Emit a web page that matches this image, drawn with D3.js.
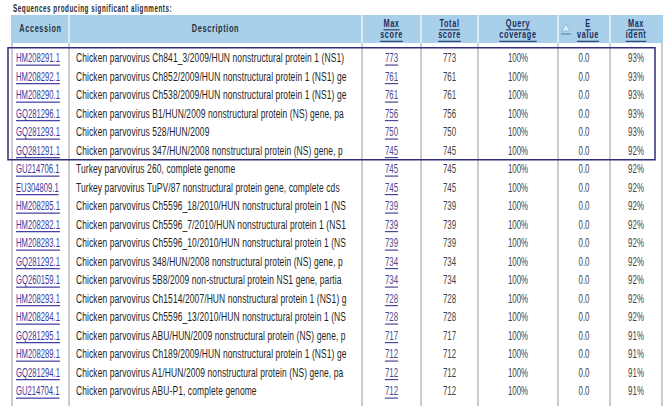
<!DOCTYPE html>
<html><head><meta charset="utf-8">
<script src="https://cdn.jsdelivr.net/npm/d3@7"></script>
<style>html,body{margin:0;padding:0;background:#fff;}</style>
</head><body>
<svg id="c" width="672" height="415"></svg>
<script>
const title = "Sequences producing significant alignments:";
const headers = ["Accession","Description","Max|score","Total|score","Query|coverage","E|value","Max|ident"];
const accessions = ["HM208291.1","HM208292.1","HM208290.1","GQ281296.1","GQ281293.1","GQ281291.1","GU214706.1","EU304809.1","HM208285.1","HM208282.1","HM208283.1","GQ281292.1","GQ260159.1","HM208293.1","HM208284.1","GQ281295.1","HM208289.1","GQ281294.1","GU214704.1"];
const descriptions = [
"Chicken parvovirus Ch841_3/2009/HUN nonstructural protein 1 (NS1)",
"Chicken parvovirus Ch852/2009/HUN nonstructural protein 1 (NS1) ge",
"Chicken parvovirus Ch538/2009/HUN nonstructural protein 1 (NS1) ge",
"Chicken parvovirus B1/HUN/2009 nonstructural protein (NS) gene, pa",
"Chicken parvovirus 528/HUN/2009",
"Chicken parvovirus 347/HUN/2008 nonstructural protein (NS) gene, p",
"Turkey parvovirus 260, complete genome",
"Turkey parvovirus TuPV/87 nonstructural protein gene, complete cds",
"Chicken parvovirus Ch5596_18/2010/HUN nonstructural protein 1 (NS",
"Chicken parvovirus Ch5596_7/2010/HUN nonstructural protein 1 (NS1",
"Chicken parvovirus Ch5596_10/2010/HUN nonstructural protein 1 (NS",
"Chicken parvovirus 348/HUN/2008 nonstructural protein (NS) gene, p",
"Chicken parvovirus 5B8/2009 non-structural protein NS1 gene, partia",
"Chicken parvovirus Ch1514/2007/HUN nonstructural protein 1 (NS1) g",
"Chicken parvovirus Ch5596_13/2010/HUN nonstructural protein 1 (NS",
"Chicken parvovirus ABU/HUN/2009 nonstructural protein (NS) gene, p",
"Chicken parvovirus Ch189/2009/HUN nonstructural protein 1 (NS1) ge",
"Chicken parvovirus A1/HUN/2009 nonstructural protein (NS) gene, pa",
"Chicken parvovirus ABU-P1, complete genome"];
const maxScore = [773,761,761,756,750,745,745,745,739,739,739,734,734,728,728,717,712,712,712];
const totalScore = [773,761,761,756,750,745,745,745,739,739,739,734,734,728,728,717,712,712,712];
const queryCoverage = ["100%","100%","100%","100%","100%","100%","100%","100%","100%","100%","100%","100%","100%","100%","100%","100%","100%","100%","100%"];
const eValue = ["0.0","0.0","0.0","0.0","0.0","0.0","0.0","0.0","0.0","0.0","0.0","0.0","0.0","0.0","0.0","0.0","0.0","0.0","0.0"];
const maxIdent = ["93%","93%","93%","93%","93%","92%","92%","92%","92%","92%","92%","92%","92%","92%","92%","91%","91%","91%","91%"];
const highlighted = 6;

const svg = d3.select("#c");
svg.append("rect").attr("width",672).attr("height",415).attr("fill","#fff");

// column edges
const edges = [12, 69, 362, 421, 478, 558, 610, 662];
const n = accessions.length;
const y = d3.scaleLinear().domain([0, n-1]).range([58, 391]);
const rowH = y(1) - y(0);
const hsx = 0.70;

function txt(g, x, yy, s, opt) {
  const t = g.append("text")
    .attr("transform", `translate(${x},${yy}) scale(${opt.sx||0.7},1)`)
    .attr("text-anchor", opt.anchor||"start")
    .attr("dominant-baseline","central")
    .attr("font-family", opt.family||"'Liberation Sans', Arial, sans-serif")
    .attr("font-size", opt.size||11)
    .attr("font-weight", opt.weight||"normal")
    .attr("letter-spacing", opt.ls||0)
    .attr("fill", opt.fill||"#222")
    .attr("text-decoration", opt.underline?"underline":null)
    .text(s);
  return t;
}

// title
txt(svg, 13, 8.5, title, {weight:"bold", size:10.5, ls:0.9, sx:0.6, fill:"#2b2b2b"});

// header
const hTop = 15, hBot = 43;
svg.append("rect").attr("x", edges[0]-1).attr("y", hTop).attr("width", edges[7]-edges[0]+2).attr("height", hBot-hTop).attr("fill","#a9d0eb");
for (let i=1;i<edges.length-1;i++){
  svg.append("line").attr("x1",edges[i]).attr("x2",edges[i]).attr("y1",hTop).attr("y2",hBot).attr("stroke","#fff").attr("stroke-width",1.2);
}
headers.forEach((h,i)=>{
  const cx = (edges[i]+edges[i+1])/2;
  const parts = h.split("|");
  if (parts.length===1) {
    txt(svg, cx, 29, h, {weight:"bold", size:10.5, ls:0.9, sx:hsx, anchor:"middle", fill:"#26303d"});
  } else {
    const off = (i===5) ? 4 : 0;
    txt(svg, cx+off, 23.5, parts[0], {weight:"bold", size:10.5, ls:0.9, sx:hsx, anchor:"middle", fill:"#1f2d5c", underline:true});
    txt(svg, cx+off, 35, parts[1], {weight:"bold", size:10.5, ls:0.9, sx:hsx, anchor:"middle", fill:"#1f2d5c", underline:true});
  }
});
// sort triangle in E value header
const tx = 566;
svg.append("path").attr("d", `M${tx-4},31 L${tx+4},31 L${tx},24 Z`).attr("fill","#d8ecf8").attr("stroke","#7fb2d6").attr("stroke-width",0.7);
svg.append("line").attr("x1",tx-5).attr("x2",tx+5).attr("y1",34).attr("y2",34).attr("stroke","#5a7fa8").attr("stroke-width",1);

// body vertical lines
const bTop = hBot, bBot = 406;
edges.forEach((e,i)=>{
  svg.append("line").attr("x1",e).attr("x2",e).attr("y1",bTop).attr("y2",bBot).attr("stroke","#9a9a9a").attr("stroke-width",1);
});

// rows
const rows = svg.append("g");
accessions.forEach((a,i)=>{
  const yy = y(i);
  txt(rows, 16, yy, a, {fill:"#3e3a9e", underline:true, size:12, sx:0.64});
  txt(rows, edges[1]+7, yy, descriptions[i], {fill:"#1e1e1e", size:12, sx:0.705, ls:0.15});
  txt(rows, (edges[2]+edges[3])/2, yy, String(maxScore[i]), {fill:"#4a4a92", underline:true, size:12, sx:0.66, anchor:"middle"});
  txt(rows, (edges[3]+edges[4])/2, yy, String(totalScore[i]), {fill:"#444", size:12, sx:0.66, anchor:"middle"});
  txt(rows, (edges[4]+edges[5])/2, yy, queryCoverage[i], {fill:"#444", size:12, sx:0.66, anchor:"middle"});
  txt(rows, (edges[5]+edges[6])/2, yy, eValue[i], {fill:"#444", size:12, sx:0.66, anchor:"middle"});
  txt(rows, (edges[6]+edges[7])/2, yy, maxIdent[i], {fill:"#444", size:12, sx:0.66, anchor:"middle"});
});

// highlight rectangle around first rows
svg.append("rect")
  .attr("x", 8).attr("y", y(0)-rowH/2-1)
  .attr("width", 655-8).attr("height", rowH*highlighted+1)
  .attr("fill","none").attr("stroke","#2e2e7a").attr("stroke-width",1.5);
</script>
</body></html>
